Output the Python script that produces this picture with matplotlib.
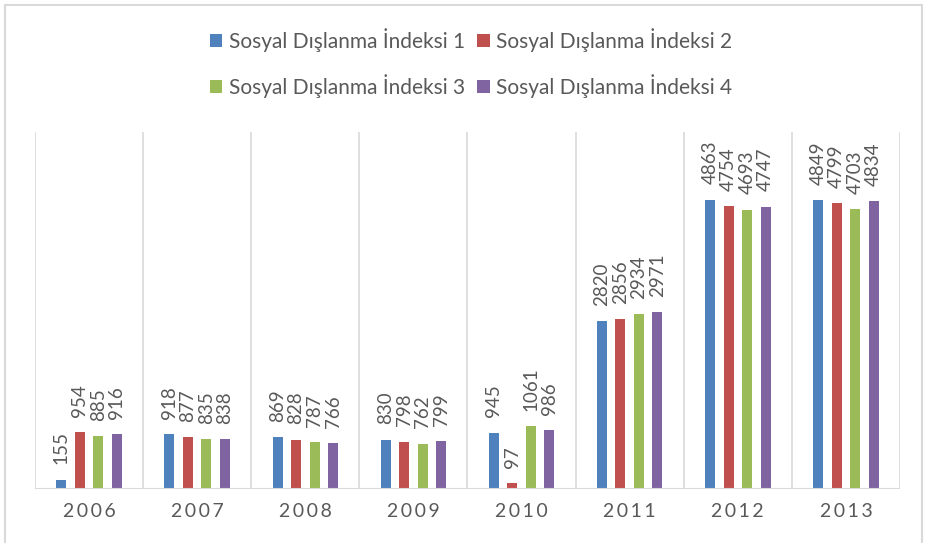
import matplotlib
matplotlib.use("Agg")
import matplotlib.pyplot as plt
from matplotlib.patches import Rectangle
import numpy as np

years = ["2006", "2007", "2008", "2009", "2010", "2011", "2012", "2013"]
series_names = ["Sosyal Dışlanma İndeksi 1", "Sosyal Dışlanma İndeksi 2",
                "Sosyal Dışlanma İndeksi 3", "Sosyal Dışlanma İndeksi 4"]
idx1 = [155, 918, 869, 830, 945, 2820, 4863, 4849]
idx2 = [954, 877, 828, 798, 97, 2856, 4754, 4799]
idx3 = [885, 835, 787, 762, 1061, 2934, 4693, 4703]
idx4 = [916, 838, 766, 799, 986, 2971, 4747, 4834]
colors = ["#4F81BD", "#C0504D", "#9BBB59", "#8064A2"]

plt.rcParams['font.family'] = ['Lato', 'DejaVu Sans']
W, H = 929, 543
fig = plt.figure(figsize=(W/100, H/100), dpi=100)

# outer border
fig.patches.append(Rectangle((5/W, -0.02), (922-5)/W, (H-5)/H + 0.02, transform=fig.transFigure,
                             fill=False, edgecolor="#d9d9d9", linewidth=1.5))

ax = fig.add_axes([35/W, 54/H, 865/W, (489-132)/H])
x = np.arange(len(years))
bw = 0.093
step = 0.171
data = [idx1, idx2, idx3, idx4]
handles = []
for i, (vals, c, name) in enumerate(zip(data, colors, series_names)):
    pos = x + (i - 1.5) * step
    bars = ax.bar(pos, vals, width=bw, color=c, label=name, zorder=3)
    handles.append(bars)
    for p, v in zip(pos, vals):
        ax.annotate(str(v), (p, v), xytext=(0, 11), textcoords='offset points',
                    rotation=90, ha='center', va='bottom',
                    fontsize=13.5, color="#595959")

ax.set_xlim(-0.5, len(years) - 0.5)
ax.set_ylim(0, 6000)
for b in np.arange(-0.5, len(years), 1.0):
    ax.axvline(b, color="#d9d9d9", linewidth=1.2, zorder=1)
for s in ax.spines.values():
    s.set_visible(False)
ax.axhline(0, color="#d9d9d9", linewidth=1.5, zorder=4)
ax.set_yticks([])
ax.set_xticks(x)
ax.set_xticklabels(["\u2009".join(y) for y in years], fontsize=14, color="#595959")
ax.tick_params(axis='x', length=0, pad=10)

order = [0, 2, 1, 3]
fig.legend([handles[k] for k in order], [series_names[k] for k in order],
           loc='center', bbox_to_anchor=(471/W, 1 - 63/H), ncol=2,
           frameon=False, fontsize=15, labelcolor="#595959", handlelength=0.6,
           handleheight=0.6, handletextpad=0.3, columnspacing=0.6, labelspacing=1.05)

fig.savefig("out.png", dpi=100)
